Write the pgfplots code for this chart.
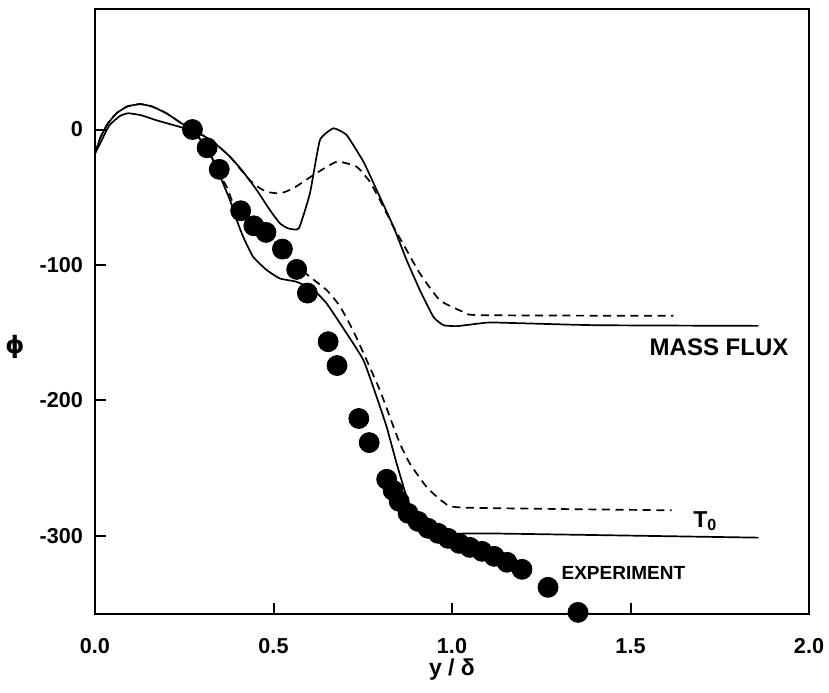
\documentclass[border=0pt]{standalone}
\usepackage{fontspec}
\setmainfont{Liberation Sans}
\newfontfamily\dejavu{DejaVu Sans}
\usepackage{pgfplots}
\pgfplotsset{compat=1.18}
\begin{document}
\begin{tikzpicture}
\begin{axis}[
  name=ax,
  scale only axis, width=357pt, height=302.5pt,
  xmin=0, xmax=2, ymin=-358, ymax=88.8,
  axis line style={line width=1pt},
  tick align=inside, tick pos=left,
  major tick length=5.5pt,
  tick style={line width=1pt, black},
  xtick={0,0.5,1,1.5,2}, xticklabels={0.0,0.5,1.0,1.5,2.0},
  ytick={-300,-200,-100,0}, yticklabels={-300,-200,-100,0},
  ticklabel style={font=\fontsize{10.8}{12}\selectfont\bfseries},
  xticklabel style={yshift=-8.5pt},
  yticklabel style={xshift=-2.5pt},
  xlabel={y / δ},
  xlabel style={font=\fontsize{11.5}{13}\selectfont\bfseries, at={(axis description cs:0.5,0)}, anchor=center, yshift=-27.5pt},
  clip=false,
]
% mass flux, solid
\addplot[black, line width=0.85pt, smooth, tension=0.25] coordinates {
(0,-17.6)(0.015,-6)(0.035,4)(0.06,12)(0.09,17)(0.126,18.8)(0.16,17)(0.2,12)(0.24,5)(0.273,0)(0.3,-4)(0.331,-9)(0.378,-20)(0.415,-31.2)(0.453,-44.7)(0.490,-59.5)(0.518,-69.3)(0.541,-73)(0.571,-73)(0.602,-47.2)(0.630,-7.8)(0.668,0.9)(0.705,-4.1)(0.752,-23.8)(0.789,-44.7)(0.836,-71.8)(0.873,-96.5)(0.910,-118.6)(0.948,-138.4)(0.976,-144.5)(1.013,-145.2)(1.078,-143.2)(1.116,-142.5)(1.4,-144.5)(1.858,-145.0)
};
% mass flux, dashed
\addplot[black, line width=0.85pt, dash pattern=on 4pt off 2.8pt, smooth, tension=0.3] coordinates {
(0,-17.6)(0.015,-6)(0.035,4)(0.06,12)(0.09,17)(0.126,18.8)(0.16,17)(0.2,12)(0.24,5)(0.273,0)(0.3,-4)(0.331,-9)(0.378,-20)(0.40,-27)(0.434,-37.5)(0.46,-43)(0.481,-46)(0.518,-47.2)(0.555,-43.5)(0.612,-33.6)(0.677,-23.8)(0.733,-27.5)(0.770,-38.6)(0.798,-52.1)(0.836,-71.8)(0.873,-89.1)(0.910,-106.3)(0.966,-126.1)(1.032,-134.7)(1.078,-137.1)(1.620,-137.6)
};
% T0, solid
\addplot[black, line width=0.85pt, smooth, tension=0.3] coordinates {
(0,-17.6)(0.015,-10)(0.04,3)(0.07,10)(0.093,12)(0.13,10.5)(0.17,7)(0.21,4)(0.25,1)(0.273,-1)(0.31,-12)(0.335,-25)(0.348,-33)(0.378,-52.1)(0.397,-66.9)(0.415,-79.2)(0.443,-94)(0.481,-103.8)(0.518,-110)(0.565,-112.5)(0.612,-118.6)(0.649,-128.5)(0.705,-150.6)(0.752,-170.4)(0.789,-197.5)(0.817,-219.7)(0.845,-246.7)(0.873,-271.4)(0.892,-283.7)(0.93,-294)(0.97,-298.5)(1.003,-298.5)(1.134,-298.4)(1.858,-301.4)
};
% T0, dashed
\addplot[black, line width=0.85pt, dash pattern=on 4pt off 2.8pt, smooth, tension=0.3] coordinates {
(0.25,1)(0.273,-1)(0.31,-12)(0.335,-25)(0.348,-33)(0.369,-42.3)(0.387,-54.5)(0.42,-66)(0.462,-75.8)(0.509,-84.1)(0.546,-96.5)(0.602,-108.8)(0.649,-118.6)(0.686,-130.5)(0.724,-149)(0.761,-170.4)(0.798,-192.5)(0.826,-212.3)(0.854,-231.9)(0.882,-246.7)(0.929,-264)(0.976,-275.1)(1.032,-279.2)(1.615,-281.2)
};
% experiment
\addplot[only marks, mark=*, mark size=5pt, black] coordinates {
(0.273,0)(0.314,-13.5)(0.348,-29.4)(0.408,-60)(0.445,-71.1)(0.479,-76)(0.525,-88.3)(0.565,-103.3)(0.595,-120.8)(0.653,-156.7)(0.678,-174.3)(0.739,-213.4)(0.768,-231.2)(0.817,-258.3)(0.835,-266.5)(0.852,-274.6)(0.877,-283.4)(0.905,-289.4)(0.933,-294.5)(0.961,-298.2)(0.989,-301.9)(1.020,-305.6)(1.050,-308.6)(1.084,-311.5)(1.118,-315.2)(1.154,-319.6)(1.196,-324.8)(1.269,-338.1)(1.353,-356.6)
};
\node[anchor=base, font=\fontsize{12}{14}\selectfont\bfseries] at (axis cs:1.748,-166.7) {MASS FLUX};
\node[anchor=base west, font=\fontsize{11.5}{13}\selectfont\bfseries, inner sep=0pt] at (axis cs:1.675,-293.8) {T\textsubscript{0}};
\node[anchor=base, font=\fontsize{9.5}{11}\selectfont\bfseries] at (axis cs:1.480,-332.2) {EXPERIMENT};
\node[font=\fontsize{12}{14}\selectfont\dejavu\bfseries] at (axis cs:-0.224,-160.7) {ϕ};
\end{axis}
\pgfresetboundingbox
\path[use as bounding box] ([shift={(-47.5pt,-39pt)}]ax.south west) rectangle ([shift={(10pt,4.65pt)}]ax.north east);
\end{tikzpicture}
\end{document}
